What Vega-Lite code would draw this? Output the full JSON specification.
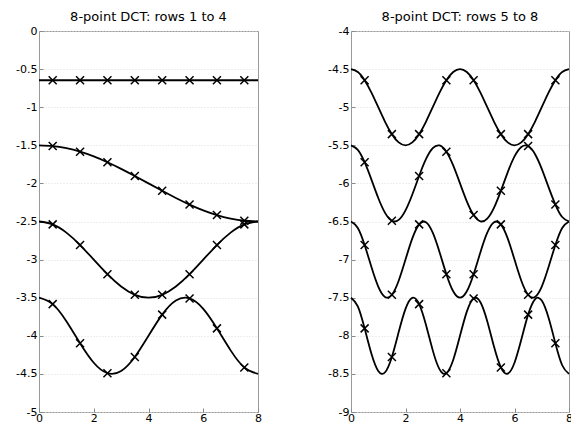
{
  "$schema": "https://vega.github.io/schema/vega-lite/v6.json",
  "background": "white",
  "padding": {"left": 15, "top": 10, "right": 0, "bottom": 0},
  "spacing": 93,
  "bounds": "flush",
  "datasets": {
    "lines": [
      {"r":1,"x":0,"y":-0.6464},{"r":1,"x":8,"y":-0.6464},
      {"r":2,"x":0,"y":-1.5},{"r":2,"x":0.5,"y":-1.5096},{"r":2,"x":1,"y":-1.5381},{"r":2,"x":1.5,"y":-1.5843},{"r":2,"x":2,"y":-1.6464},{"r":2,"x":2.5,"y":-1.7222},{"r":2,"x":3,"y":-1.8087},{"r":2,"x":3.5,"y":-1.9025},{"r":2,"x":4,"y":-2},{"r":2,"x":4.5,"y":-2.0975},{"r":2,"x":5,"y":-2.1913},{"r":2,"x":5.5,"y":-2.2778},{"r":2,"x":6,"y":-2.3536},{"r":2,"x":6.5,"y":-2.4157},{"r":2,"x":7,"y":-2.4619},{"r":2,"x":7.5,"y":-2.4904},{"r":2,"x":8,"y":-2.5},
      {"r":3,"x":0,"y":-2.5},{"r":3,"x":0.5,"y":-2.5381},{"r":3,"x":1,"y":-2.6464},{"r":3,"x":1.5,"y":-2.8087},{"r":3,"x":2,"y":-3},{"r":3,"x":2.5,"y":-3.1913},{"r":3,"x":3,"y":-3.3536},{"r":3,"x":3.5,"y":-3.4619},{"r":3,"x":4,"y":-3.5},{"r":3,"x":4.5,"y":-3.4619},{"r":3,"x":5,"y":-3.3536},{"r":3,"x":5.5,"y":-3.1913},{"r":3,"x":6,"y":-3},{"r":3,"x":6.5,"y":-2.8087},{"r":3,"x":7,"y":-2.6464},{"r":3,"x":7.5,"y":-2.5381},{"r":3,"x":8,"y":-2.5},
      {"r":4,"x":0,"y":-3.5},{"r":4,"x":0.5,"y":-3.5843},{"r":4,"x":1,"y":-3.8087},{"r":4,"x":1.5,"y":-4.0975},{"r":4,"x":2,"y":-4.3536},{"r":4,"x":2.5,"y":-4.4904},{"r":4,"x":3,"y":-4.4619},{"r":4,"x":3.5,"y":-4.2778},{"r":4,"x":4,"y":-4},{"r":4,"x":4.5,"y":-3.7222},{"r":4,"x":5,"y":-3.5381},{"r":4,"x":5.5,"y":-3.5096},{"r":4,"x":6,"y":-3.6464},{"r":4,"x":6.5,"y":-3.9025},{"r":4,"x":7,"y":-4.1913},{"r":4,"x":7.5,"y":-4.4157},{"r":4,"x":8,"y":-4.5},
      {"r":5,"x":0,"y":-4.5},{"r":5,"x":0.25,"y":-4.5381},{"r":5,"x":0.5,"y":-4.6464},{"r":5,"x":0.75,"y":-4.8087},{"r":5,"x":1,"y":-5},{"r":5,"x":1.25,"y":-5.1913},{"r":5,"x":1.5,"y":-5.3536},{"r":5,"x":1.75,"y":-5.4619},{"r":5,"x":2,"y":-5.5},{"r":5,"x":2.25,"y":-5.4619},{"r":5,"x":2.5,"y":-5.3536},{"r":5,"x":2.75,"y":-5.1913},{"r":5,"x":3,"y":-5},{"r":5,"x":3.25,"y":-4.8087},{"r":5,"x":3.5,"y":-4.6464},{"r":5,"x":3.75,"y":-4.5381},{"r":5,"x":4,"y":-4.5},{"r":5,"x":4.25,"y":-4.5381},{"r":5,"x":4.5,"y":-4.6464},{"r":5,"x":4.75,"y":-4.8087},{"r":5,"x":5,"y":-5},{"r":5,"x":5.25,"y":-5.1913},{"r":5,"x":5.5,"y":-5.3536},{"r":5,"x":5.75,"y":-5.4619},{"r":5,"x":6,"y":-5.5},{"r":5,"x":6.25,"y":-5.4619},{"r":5,"x":6.5,"y":-5.3536},{"r":5,"x":6.75,"y":-5.1913},{"r":5,"x":7,"y":-5},{"r":5,"x":7.25,"y":-4.8087},{"r":5,"x":7.5,"y":-4.6464},{"r":5,"x":7.75,"y":-4.5381},{"r":5,"x":8,"y":-4.5},
      {"r":6,"x":0,"y":-5.5},{"r":6,"x":0.25,"y":-5.559},{"r":6,"x":0.5,"y":-5.7222},{"r":6,"x":0.75,"y":-5.951},{"r":6,"x":1,"y":-6.1913},{"r":6,"x":1.25,"y":-6.3865},{"r":6,"x":1.5,"y":-6.4904},{"r":6,"x":1.75,"y":-6.4785},{"r":6,"x":2,"y":-6.3536},{"r":6,"x":2.25,"y":-6.1451},{"r":6,"x":2.5,"y":-5.9025},{"r":6,"x":2.75,"y":-5.6828},{"r":6,"x":3,"y":-5.5381},{"r":6,"x":3.25,"y":-5.5024},{"r":6,"x":3.5,"y":-5.5843},{"r":6,"x":3.75,"y":-5.7643},{"r":6,"x":4,"y":-6},{"r":6,"x":4.25,"y":-6.2357},{"r":6,"x":4.5,"y":-6.4157},{"r":6,"x":4.75,"y":-6.4976},{"r":6,"x":5,"y":-6.4619},{"r":6,"x":5.25,"y":-6.3172},{"r":6,"x":5.5,"y":-6.0975},{"r":6,"x":5.75,"y":-5.8549},{"r":6,"x":6,"y":-5.6464},{"r":6,"x":6.25,"y":-5.5215},{"r":6,"x":6.5,"y":-5.5096},{"r":6,"x":6.75,"y":-5.6135},{"r":6,"x":7,"y":-5.8087},{"r":6,"x":7.25,"y":-6.049},{"r":6,"x":7.5,"y":-6.2778},{"r":6,"x":7.75,"y":-6.441},{"r":6,"x":8,"y":-6.5},
      {"r":7,"x":0,"y":-6.5},{"r":7,"x":0.25,"y":-6.5843},{"r":7,"x":0.5,"y":-6.8087},{"r":7,"x":0.75,"y":-7.0975},{"r":7,"x":1,"y":-7.3536},{"r":7,"x":1.25,"y":-7.4904},{"r":7,"x":1.5,"y":-7.4619},{"r":7,"x":1.75,"y":-7.2778},{"r":7,"x":2,"y":-7},{"r":7,"x":2.25,"y":-6.7222},{"r":7,"x":2.5,"y":-6.5381},{"r":7,"x":2.75,"y":-6.5096},{"r":7,"x":3,"y":-6.6464},{"r":7,"x":3.25,"y":-6.9025},{"r":7,"x":3.5,"y":-7.1913},{"r":7,"x":3.75,"y":-7.4157},{"r":7,"x":4,"y":-7.5},{"r":7,"x":4.25,"y":-7.4157},{"r":7,"x":4.5,"y":-7.1913},{"r":7,"x":4.75,"y":-6.9025},{"r":7,"x":5,"y":-6.6464},{"r":7,"x":5.25,"y":-6.5096},{"r":7,"x":5.5,"y":-6.5381},{"r":7,"x":5.75,"y":-6.7222},{"r":7,"x":6,"y":-7},{"r":7,"x":6.25,"y":-7.2778},{"r":7,"x":6.5,"y":-7.4619},{"r":7,"x":6.75,"y":-7.4904},{"r":7,"x":7,"y":-7.3536},{"r":7,"x":7.25,"y":-7.0975},{"r":7,"x":7.5,"y":-6.8087},{"r":7,"x":7.75,"y":-6.5843},{"r":7,"x":8,"y":-6.5},
      {"r":8,"x":0,"y":-7.5},{"r":8,"x":0.25,"y":-7.6135},{"r":8,"x":0.5,"y":-7.9025},{"r":8,"x":0.75,"y":-8.2357},{"r":8,"x":1,"y":-8.4619},{"r":8,"x":1.25,"y":-8.4785},{"r":8,"x":1.5,"y":-8.2778},{"r":8,"x":1.75,"y":-7.951},{"r":8,"x":2,"y":-7.6464},{"r":8,"x":2.25,"y":-7.5024},{"r":8,"x":2.5,"y":-7.5843},{"r":8,"x":2.75,"y":-7.8549},{"r":8,"x":3,"y":-8.1913},{"r":8,"x":3.25,"y":-8.441},{"r":8,"x":3.5,"y":-8.4904},{"r":8,"x":3.75,"y":-8.3172},{"r":8,"x":4,"y":-8},{"r":8,"x":4.25,"y":-7.6828},{"r":8,"x":4.5,"y":-7.5096},{"r":8,"x":4.75,"y":-7.559},{"r":8,"x":5,"y":-7.8087},{"r":8,"x":5.25,"y":-8.1451},{"r":8,"x":5.5,"y":-8.4157},{"r":8,"x":5.75,"y":-8.4976},{"r":8,"x":6,"y":-8.3536},{"r":8,"x":6.25,"y":-8.049},{"r":8,"x":6.5,"y":-7.7222},{"r":8,"x":6.75,"y":-7.5215},{"r":8,"x":7,"y":-7.5381},{"r":8,"x":7.25,"y":-7.7643},{"r":8,"x":7.5,"y":-8.0975},{"r":8,"x":7.75,"y":-8.3865},{"r":8,"x":8,"y":-8.5}
    ],
    "pts": [
      {"r":1,"x":0.5,"y":-0.6464},{"r":1,"x":1.5,"y":-0.6464},{"r":1,"x":2.5,"y":-0.6464},{"r":1,"x":3.5,"y":-0.6464},{"r":1,"x":4.5,"y":-0.6464},{"r":1,"x":5.5,"y":-0.6464},{"r":1,"x":6.5,"y":-0.6464},{"r":1,"x":7.5,"y":-0.6464},
      {"r":2,"x":0.5,"y":-1.5096},{"r":2,"x":1.5,"y":-1.5843},{"r":2,"x":2.5,"y":-1.7222},{"r":2,"x":3.5,"y":-1.9025},{"r":2,"x":4.5,"y":-2.0975},{"r":2,"x":5.5,"y":-2.2778},{"r":2,"x":6.5,"y":-2.4157},{"r":2,"x":7.5,"y":-2.4904},
      {"r":3,"x":0.5,"y":-2.5381},{"r":3,"x":1.5,"y":-2.8087},{"r":3,"x":2.5,"y":-3.1913},{"r":3,"x":3.5,"y":-3.4619},{"r":3,"x":4.5,"y":-3.4619},{"r":3,"x":5.5,"y":-3.1913},{"r":3,"x":6.5,"y":-2.8087},{"r":3,"x":7.5,"y":-2.5381},
      {"r":4,"x":0.5,"y":-3.5843},{"r":4,"x":1.5,"y":-4.0975},{"r":4,"x":2.5,"y":-4.4904},{"r":4,"x":3.5,"y":-4.2778},{"r":4,"x":4.5,"y":-3.7222},{"r":4,"x":5.5,"y":-3.5096},{"r":4,"x":6.5,"y":-3.9025},{"r":4,"x":7.5,"y":-4.4157},
      {"r":5,"x":0.5,"y":-4.6464},{"r":5,"x":1.5,"y":-5.3536},{"r":5,"x":2.5,"y":-5.3536},{"r":5,"x":3.5,"y":-4.6464},{"r":5,"x":4.5,"y":-4.6464},{"r":5,"x":5.5,"y":-5.3536},{"r":5,"x":6.5,"y":-5.3536},{"r":5,"x":7.5,"y":-4.6464},
      {"r":6,"x":0.5,"y":-5.7222},{"r":6,"x":1.5,"y":-6.4904},{"r":6,"x":2.5,"y":-5.9025},{"r":6,"x":3.5,"y":-5.5843},{"r":6,"x":4.5,"y":-6.4157},{"r":6,"x":5.5,"y":-6.0975},{"r":6,"x":6.5,"y":-5.5096},{"r":6,"x":7.5,"y":-6.2778},
      {"r":7,"x":0.5,"y":-6.8087},{"r":7,"x":1.5,"y":-7.4619},{"r":7,"x":2.5,"y":-6.5381},{"r":7,"x":3.5,"y":-7.1913},{"r":7,"x":4.5,"y":-7.1913},{"r":7,"x":5.5,"y":-6.5381},{"r":7,"x":6.5,"y":-7.4619},{"r":7,"x":7.5,"y":-6.8087},
      {"r":8,"x":0.5,"y":-7.9025},{"r":8,"x":1.5,"y":-8.2778},{"r":8,"x":2.5,"y":-7.5843},{"r":8,"x":3.5,"y":-8.4904},{"r":8,"x":4.5,"y":-7.5096},{"r":8,"x":5.5,"y":-8.4157},{"r":8,"x":6.5,"y":-7.7222},{"r":8,"x":7.5,"y":-8.0975}
    ]
  },
  "config": {
    "view": {"stroke": "#999999", "strokeWidth": 1},
    "font": "DejaVu Sans",
    "axis": {
      "domain": false,
      "title": null,
      "labelFont": "DejaVu Sans",
      "labelFontSize": 11,
      "labelColor": "#000000",
      "tickColor": "#888888",
      "tickSize": -4,
      "labelFlush": false,
      "labelOverlap": false
    },
    "axisX": {"labelPadding": 4, "grid": false},
    "axisY": {"labelPadding": 6, "grid": true, "gridColor": "#dddddd", "gridDash": [1, 2]},
    "title": {"font": "DejaVu Sans", "fontSize": 13, "fontWeight": "normal", "color": "#000000", "anchor": "middle", "offset": 1}
  },
  "hconcat": [
    {
      "width": 219,
      "height": 381,
      "title": "8-point DCT: rows 1 to 4",
      "encoding": {
        "x": {"field": "x", "type": "quantitative", "scale": {"domain": [0, 8], "nice": false}, "axis": {"values": [0, 2, 4, 6, 8]}},
        "y": {"field": "y", "type": "quantitative", "scale": {"domain": [-5, 0], "nice": false, "zero": false}, "axis": {"values": [0, -0.5, -1, -1.5, -2, -2.5, -3, -3.5, -4, -4.5, -5], "labelExpr": "'' + datum.value"}}
      },
      "layer": [
        {
          "data": {"name": "lines"},
          "transform": [{"filter": "datum.r <= 4"}],
          "mark": {"type": "line", "interpolate": "natural", "color": "#000000", "strokeWidth": 1.8},
          "encoding": {"detail": {"field": "r"}}
        },
        {
          "data": {"name": "pts"},
          "transform": [{"filter": "datum.r <= 4"}],
          "mark": {"type": "point", "shape": "M-1,-1L1,1M1,-1L-1,1", "size": 64, "stroke": "#000000", "strokeWidth": 1.5, "filled": false, "opacity": 1},
          "encoding": {}
        }
      ]
    },
    {
      "width": 218,
      "height": 381,
      "title": "8-point DCT: rows 5 to 8",
      "encoding": {
        "x": {"field": "x", "type": "quantitative", "scale": {"domain": [0, 8], "nice": false}, "axis": {"values": [0, 2, 4, 6, 8]}},
        "y": {"field": "y", "type": "quantitative", "scale": {"domain": [-9, -4], "nice": false, "zero": false}, "axis": {"values": [-4, -4.5, -5, -5.5, -6, -6.5, -7, -7.5, -8, -8.5, -9], "labelExpr": "'' + datum.value"}}
      },
      "layer": [
        {
          "data": {"name": "lines"},
          "transform": [{"filter": "datum.r >= 5"}],
          "mark": {"type": "line", "interpolate": "natural", "color": "#000000", "strokeWidth": 1.8},
          "encoding": {"detail": {"field": "r"}}
        },
        {
          "data": {"name": "pts"},
          "transform": [{"filter": "datum.r >= 5"}],
          "mark": {"type": "point", "shape": "M-1,-1L1,1M1,-1L-1,1", "size": 64, "stroke": "#000000", "strokeWidth": 1.5, "filled": false, "opacity": 1},
          "encoding": {}
        }
      ]
    }
  ]
}
